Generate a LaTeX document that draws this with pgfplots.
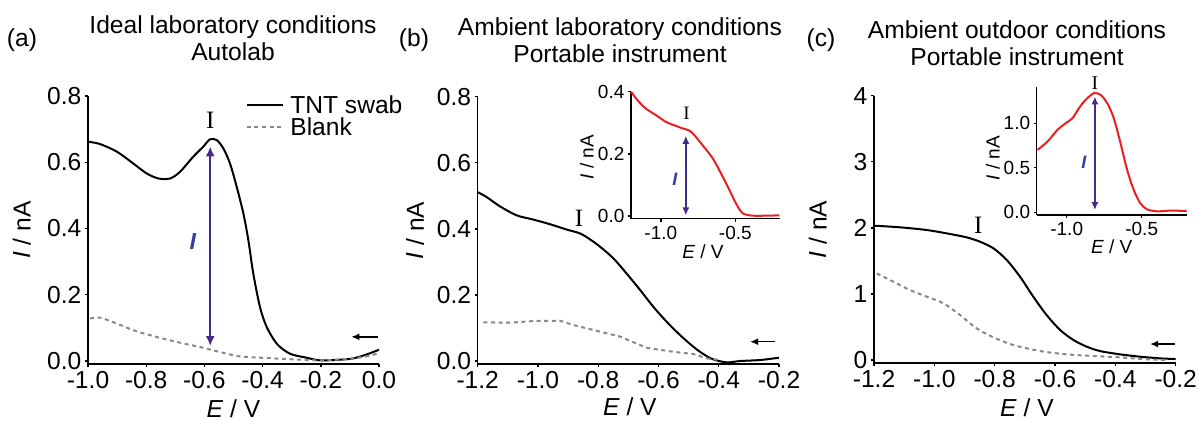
\documentclass[border=0pt]{standalone}
\usepackage{fontspec}
\setmainfont{Liberation Sans}
\newfontfamily\serifI{Liberation Serif}
\usepackage{pgfplots}
\pgfplotsset{compat=1.18}
\usetikzlibrary{arrows.meta}
\definecolor{arrowpurple}{RGB}{72,40,140}
\definecolor{labelblue}{RGB}{60,60,160}
\definecolor{blankgray}{RGB}{140,135,130}
\definecolor{insetred}{RGB}{232,32,32}
\newcommand{\mainfs}{\fontsize{12.3}{13.5}\selectfont}
\newcommand{\insetfs}{\fontsize{9.5}{11}\selectfont}
\tikzset{
  blk/.style={black, line width=1pt},
  blank/.style={blankgray, line width=1pt, dash pattern=on 2pt off 1.8pt},
  redline/.style={insetred, line width=1pt},
}
\pgfplotsset{
  common/.style={
    scale only axis, axis lines=left, axis line style={-, line width=0.7pt},
    enlargelimits=false, tick align=outside, major tick length=1.6pt,
    tick style={line width=0.7pt, black}, clip=false, anchor=south west,
    yticklabel style={inner sep=1.5pt},
    xticklabel style={inner sep=2pt},
    xlabel={\textit{E} / V}, ylabel={\textit{I} / nA},
  },
  panel/.style={common, ticklabel style={font=\mainfs}, label style={font=\mainfs}},
  inset/.style={common, ticklabel style={font=\insetfs}, label style={font=\insetfs},
    xtick={-1,-0.5}, xticklabels={-1.0,-0.5}, xmin=-1.2, xmax=-0.2},
}
\begin{document}
\begin{tikzpicture}
\useasboundingbox (0,0) rectangle (599pt,210.5pt);
% titles
\node[font=\mainfs, align=center, inner sep=0pt] at (116.5pt,191.25pt) {Ideal laboratory conditions\\Autolab};
\node[font=\mainfs, align=center, inner sep=0pt] at (310pt,190.25pt) {Ambient laboratory conditions\\Portable instrument};
\node[font=\mainfs, align=center, inner sep=0pt] at (508.5pt,188.75pt) {Ambient outdoor conditions\\Portable instrument};
\node[font=\mainfs, inner sep=0pt] at (11pt,190.5pt) {(a)};
\node[font=\mainfs, inner sep=0pt] at (207pt,190.5pt) {(b)};
\node[font=\mainfs, inner sep=0pt] at (410.5pt,190.5pt) {(c)};

% ---------------- panel (a)
\begin{axis}[panel, at={(44pt,28.5pt)}, width=145.5pt, height=134pt,
  xmin=-1, xmax=0, ymin=-0.009, ymax=0.8,
  xtick={-1,-0.8,-0.6,-0.4,-0.2,0}, xticklabels={-1.0,-0.8,-0.6,-0.4,-0.2,0.0},
  ytick={0,0.2,0.4,0.6,0.8}, yticklabels={0.0,0.2,0.4,0.6,0.8},
  ylabel style={at={(axis description cs:-0.227,0.5)}, anchor=center},
  xlabel style={at={(axis description cs:0.5,-0.166)}, anchor=center}]
\addplot[blk, smooth] coordinates {
(-1.0,0.662) (-0.959,0.655) (-0.901,0.632) (-0.844,0.596) (-0.798,0.566) (-0.758,0.551)
(-0.718,0.551) (-0.684,0.571) (-0.638,0.617) (-0.604,0.647) (-0.581,0.669) (-0.558,0.667)
(-0.535,0.642) (-0.512,0.596) (-0.489,0.526) (-0.466,0.445) (-0.449,0.365) (-0.432,0.264)
(-0.409,0.163) (-0.386,0.103) (-0.351,0.052) (-0.306,0.022) (-0.249,0.010) (-0.203,0.002)
(-0.134,0.004) (-0.088,0.008) (-0.042,0.020) (0.0,0.034)};
\addplot[blank, smooth] coordinates {
(-0.993,0.128) (-0.959,0.131) (-0.901,0.113) (-0.844,0.093) (-0.787,0.078) (-0.707,0.060)
(-0.615,0.042) (-0.546,0.027) (-0.478,0.014) (-0.386,0.009) (-0.294,0.005) (-0.203,0.002)
(-0.111,0.006) (-0.042,0.014) (-0.008,0.022)};
\draw[arrowpurple, line width=1pt, {Latex[length=5pt,width=4.5pt]}-{Latex[length=5pt,width=4.5pt]}]
  (axis cs:-0.58,0.648) -- (axis cs:-0.58,0.045);
\node[font=\fontsize{12.5}{13}\serifI\selectfont, inner sep=0pt] at (axis cs:-0.58,0.727) {I};
\node[font=\fontsize{11.6}{12}\selectfont\bfseries\itshape, text=labelblue, inner sep=0pt] at (axis cs:-0.64,0.36) {I};
\draw[black, line width=0.8pt, -{Latex[length=4pt,width=3.5pt]}] (axis cs:-0.003,0.073) -- (axis cs:-0.095,0.073);
% legend
\draw[blk] (rel axis cs:0.546,0.968) -- (rel axis cs:0.670,0.968);
\draw[blank] (rel axis cs:0.546,0.886) -- (rel axis cs:0.670,0.886);
\node[font=\mainfs, anchor=west, inner sep=0pt] at (rel axis cs:0.694,0.968) {TNT swab};
\node[font=\mainfs, anchor=west, inner sep=0pt] at (rel axis cs:0.694,0.886) {Blank};
\end{axis}

% ---------------- panel (b)
\begin{axis}[panel, at={(238.85pt,28.5pt)}, width=150.65pt, height=133.65pt,
  xmin=-1.2, xmax=-0.2, ymin=-0.009, ymax=0.8,
  xtick={-1.2,-1,-0.8,-0.6,-0.4,-0.2}, xticklabels={-1.2,-1.0,-0.8,-0.6,-0.4,-0.2},
  ytick={0,0.2,0.4,0.6,0.8}, yticklabels={0.0,0.2,0.4,0.6,0.8},
  ylabel style={at={(axis description cs:-0.208,0.5)}, anchor=center},
  xlabel style={at={(axis description cs:0.505,-0.158)}, anchor=center}]
\addplot[blk, smooth] coordinates {
(-1.2,0.511) (-1.170,0.496) (-1.126,0.468) (-1.071,0.441) (-1.015,0.428) (-0.960,0.414)
(-0.905,0.398) (-0.860,0.386) (-0.827,0.368) (-0.794,0.346) (-0.750,0.311) (-0.706,0.265)
(-0.661,0.215) (-0.617,0.164) (-0.573,0.119) (-0.529,0.079) (-0.484,0.043) (-0.451,0.021)
(-0.418,0.005) (-0.374,-0.004) (-0.329,0.000) (-0.263,0.003) (-0.2,0.010)};
\addplot[blank] coordinates {
(-1.181,0.117) (-1.093,0.116) (-1.015,0.121) (-0.927,0.122) (-0.883,0.109) (-0.816,0.094)
(-0.728,0.074) (-0.639,0.040) (-0.551,0.028) (-0.484,0.021) (-0.440,0.008) (-0.396,0.003)};
\node[font=\fontsize{12.5}{13}\serifI\selectfont, inner sep=0pt] at (axis cs:-0.864,0.432) {I};
\draw[black, line width=0.8pt, -{Latex[length=4pt,width=3.5pt]}] (axis cs:-0.212,0.0585) -- (axis cs:-0.296,0.0585);
\end{axis}

% inset (b)
\begin{axis}[inset, at={(315.5pt,101.15pt)}, width=74.5pt, height=63.5pt,
  ymin=-0.0087, ymax=0.4, ytick={0,0.2,0.4}, yticklabels={0.0,0.2,0.4},
  ylabel style={at={(axis description cs:-0.297,0.486)}, anchor=center},
  xlabel style={at={(axis description cs:0.483,-0.26)}, anchor=center}]
\addplot[redline, smooth] coordinates {
(-1.2,0.400) (-1.157,0.373) (-1.101,0.346) (-1.034,0.325) (-0.966,0.303) (-0.899,0.290)
(-0.854,0.282) (-0.809,0.275) (-0.776,0.261) (-0.720,0.228) (-0.652,0.186) (-0.596,0.137)
(-0.540,0.084) (-0.496,0.041) (-0.451,0.009) (-0.383,0.001) (-0.294,0.001) (-0.204,0.002)};
\draw[arrowpurple, line width=0.9pt, {Latex[length=4pt,width=3.6pt]}-{Latex[length=4pt,width=3.6pt]}]
  (axis cs:-0.832,0.258) -- (axis cs:-0.832,0.002);
\node[font=\fontsize{9.5}{10}\serifI\selectfont, inner sep=0pt] at (axis cs:-0.827,0.330) {I};
\node[font=\fontsize{9}{10}\selectfont\bfseries\itshape, text=labelblue, inner sep=0pt] at (axis cs:-0.906,0.118) {I};
\end{axis}

% ---------------- panel (c)
\begin{axis}[panel, at={(437pt,29pt)}, width=150.85pt, height=133.65pt,
  xmin=-1.2, xmax=-0.2, ymin=-0.045, ymax=4,
  xtick={-1.2,-1,-0.8,-0.6,-0.4,-0.2}, xticklabels={-1.2,-1.0,-0.8,-0.6,-0.4,-0.2},
  ytick={0,1,2,3,4}, yticklabels={0,1,2,3,4},
  ylabel style={at={(axis description cs:-0.186,0.5)}, anchor=center},
  xlabel style={at={(axis description cs:0.507,-0.166)}, anchor=center}]
\addplot[blk, smooth] coordinates {
(-1.2,2.033) (-1.114,2.008) (-1.025,1.967) (-0.948,1.907) (-0.893,1.856) (-0.849,1.791)
(-0.804,1.690) (-0.760,1.513) (-0.716,1.261) (-0.672,0.958) (-0.628,0.681) (-0.583,0.454)
(-0.539,0.303) (-0.495,0.202) (-0.451,0.136) (-0.385,0.086) (-0.318,0.050) (-0.252,0.025) (-0.2,0.015)};
\addplot[blank, smooth] coordinates {
(-1.191,1.311) (-1.136,1.185) (-1.081,1.059) (-1.025,0.958) (-0.970,0.858) (-0.915,0.681)
(-0.860,0.479) (-0.804,0.343) (-0.738,0.227) (-0.650,0.136) (-0.561,0.086) (-0.473,0.061)
(-0.385,0.040) (-0.296,0.010) (-0.230,0.000)};
\node[font=\fontsize{12.5}{13}\serifI\selectfont, inner sep=0pt] at (axis cs:-0.854,2.043) {I};
\draw[black, line width=0.8pt, -{Latex[length=4pt,width=3.5pt]}] (axis cs:-0.202,0.242) -- (axis cs:-0.285,0.242);
\end{axis}

% inset (c)
\begin{axis}[inset, at={(518.35pt,103pt)}, width=75pt, height=64.15pt,
  ymin=-0.03, ymax=1.41, ytick={0,0.5,1}, yticklabels={0.0,0.5,1.0},
  ylabel style={at={(axis description cs:-0.293,0.442)}, anchor=center},
  xlabel style={at={(axis description cs:0.5,-0.247)}, anchor=center}]
\addplot[redline, smooth] coordinates {
(-1.195,0.700) (-1.128,0.794) (-1.062,0.925) (-1.007,1.000) (-0.962,1.056) (-0.918,1.169)
(-0.874,1.262) (-0.819,1.337) (-0.774,1.318) (-0.730,1.225) (-0.686,1.056) (-0.641,0.775)
(-0.597,0.476) (-0.553,0.251) (-0.509,0.101) (-0.465,0.034) (-0.398,0.011) (-0.310,0.019) (-0.2,0.015)};
\draw[arrowpurple, line width=0.9pt, {Latex[length=4pt,width=3.6pt]}-{Latex[length=4pt,width=3.6pt]}]
  (axis cs:-0.812,1.30) -- (axis cs:-0.812,0.026);
\node[font=\fontsize{9.8}{10}\serifI\selectfont, inner sep=0pt] at (axis cs:-0.812,1.449) {I};
\node[font=\fontsize{9}{10}\selectfont\bfseries\itshape, text=labelblue, inner sep=0pt] at (axis cs:-0.885,0.562) {I};
\end{axis}
\end{tikzpicture}
\end{document}
